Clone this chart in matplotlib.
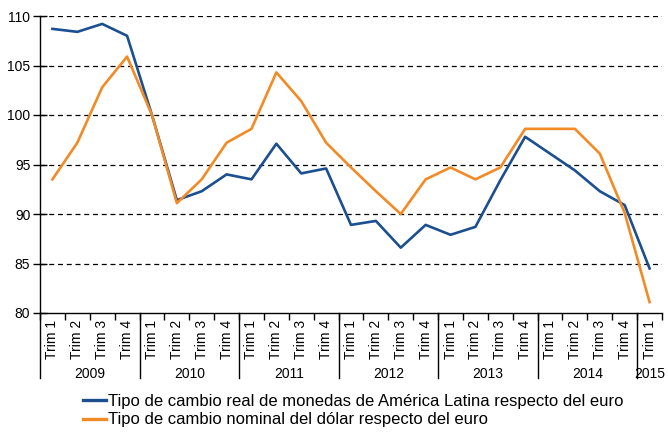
import matplotlib.pyplot as plt
import matplotlib.lines as mlines

plt.rcParams['font.family'] = ['Liberation Sans', 'DejaVu Sans']

# Data
years = ["2009", "2010", "2011", "2012", "2013", "2014", "2015"]
quarters = ["Trim 1", "Trim 2", "Trim 3", "Trim 4"] * 6 + ["Trim 1"]

real_latam = [108.7, 108.4, 109.2, 108.0,
              100.0, 91.4, 92.3, 94.0,
              93.5, 97.1, 94.1, 94.6,
              88.9, 89.3, 86.6, 88.9,
              87.9, 88.7, 93.4, 97.8,
              96.1, 94.4, 92.3, 90.9,
              84.5]
nominal_usd = [93.5, 97.2, 102.8, 105.9,
               100.0, 91.1, 93.5, 97.2,
               98.6, 104.3, 101.4, 97.2,
               94.7, 92.3, 90.0, 93.5,
               94.7, 93.5, 94.7, 98.6,
               98.6, 98.6, 96.1, 90.1,
               81.1]

label_real = "Tipo de cambio real de monedas de América Latina respecto del euro"
label_nom = "Tipo de cambio nominal del dólar respecto del euro"

blue = "#1b4f8f"
orange = "#f28a25"

W, H = 668, 432
fig = plt.figure(figsize=(W / 100, H / 100), dpi=100)
ax = fig.add_axes([40/W, 1 - 313/H, 622/W, 297/H])

x = list(range(len(quarters)))
ax.plot(x, real_latam, color=blue, lw=1.9, label=label_real)
ax.plot(x, nominal_usd, color=orange, lw=1.9, label=label_nom)

ax.set_xlim(-0.5, len(quarters) - 0.5)
ax.set_ylim(80, 110)
ax.set_yticks(range(80, 111, 5))
for v in range(85, 111, 5):
    ax.axhline(v, color="black", lw=0.9, ls=(0, (4, 3)), zorder=0)

for s in ["top", "right"]:
    ax.spines[s].set_visible(False)
ax.spines["left"].set_linewidth(1.0)
ax.spines["bottom"].set_linewidth(1.0)
ax.tick_params(axis="y", direction="inout", length=10, width=1, labelsize=10, pad=2)

# quarter labels
ax.set_xticks(x)
ax.set_xticklabels(quarters, rotation=90, fontsize=10)
ax.tick_params(axis="x", length=0, pad=5)
ax.set_xticks([i + 0.5 for i in range(-1, len(quarters))], minor=True)
ax.tick_params(axis="x", which="minor", length=5, width=1)

# year separators and labels
trans = ax.get_xaxis_transform()
for i in range(len(years)):
    start = i * 4
    ax.plot([start - 0.5, start - 0.5], [0, -65/297], transform=trans,
            color="black", lw=1.0, clip_on=False)
    n = min(4, len(quarters) - start)
    ax.text(start - 0.5 + n / 2, -61/297, years[i], transform=trans,
            ha="center", va="center", fontsize=10)

h1 = mlines.Line2D([], [], color=blue, lw=2.4)
h2 = mlines.Line2D([], [], color=orange, lw=2.4)
fig.legend([h1, h2], [label_real, label_nom], loc="upper left",
           bbox_to_anchor=(83/W, 1 - 394/H), frameon=False, fontsize=12,
           borderpad=0, borderaxespad=0,
           handlelength=1.4, handletextpad=0.12, labelspacing=0.2)

fig.savefig("out.png", dpi=100)
